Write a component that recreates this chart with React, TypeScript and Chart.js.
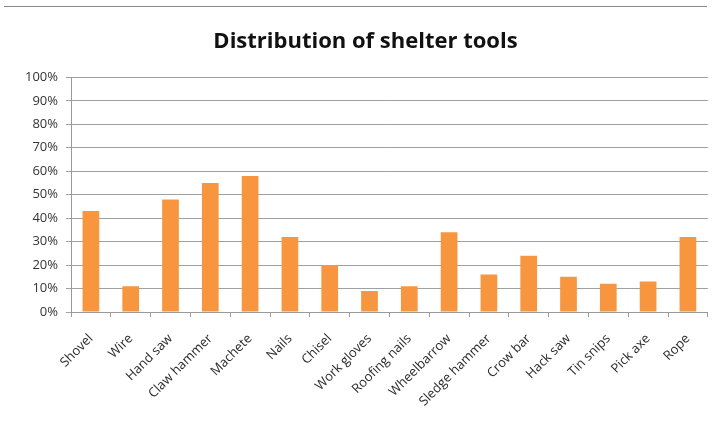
import { useEffect, useRef } from "react";
import { Chart, registerables } from "chart.js";

Chart.register(...registerables);

// Share of households owning each shelter tool (percent)
const tools = [
  "Shovel",
  "Wire",
  "Hand saw",
  "Claw hammer",
  "Machete",
  "Nails",
  "Chisel",
  "Work gloves",
  "Roofing nails",
  "Wheelbarrow",
  "Sledge hammer",
  "Crow bar",
  "Hack saw",
  "Tin snips",
  "Pick axe",
  "Rope",
];
const shares = [43, 11, 48, 55, 58, 32, 20, 9, 11, 34, 16, 24, 15, 12, 13, 32];
const yMin = 0;
const yMax = 100;
const yStep = 10;

const FONT = "'Open Sans', 'Liberation Sans', sans-serif";

export default function App() {
  const canvasRef = useRef<HTMLCanvasElement | null>(null);

  useEffect(() => {
    const canvas = canvasRef.current;
    if (!canvas) return;
    const chart = new Chart(canvas, {
      type: "bar",
      data: {
        labels: tools,
        datasets: [
          {
            data: shares,
            backgroundColor: "#F7963F",
            borderWidth: 0,
            categoryPercentage: 1,
            barPercentage: 0.42,
          },
        ],
      },
      options: {
        responsive: false,
        animation: false,
        layout: { padding: { left: 20, right: 2, top: 0, bottom: 0 } },
        plugins: {
          legend: { display: false },
          tooltip: { enabled: false },
          title: {
            display: true,
            text: "Distribution of shelter tools",
            color: "#111",
            font: { family: FONT, size: 22, weight: "bold" },
            padding: { top: 29, bottom: 22 },
          },
        },
        scales: {
          x: {
            grid: {
              display: true,
              drawOnChartArea: false,
              drawTicks: true,
              tickLength: 5,
              color: "#9a9a9a",
              offset: true,
            },
            border: { display: true, color: "#9a9a9a" },
            ticks: {
              color: "#2a2a2a",
              font: { family: FONT, size: 13 },
              minRotation: 45,
              maxRotation: 45,
              autoSkip: false,
              padding: 14,
            },
            afterFit: (scale: any) => {
              scale.height = 122;
            },
          },
          y: {
            min: yMin,
            max: yMax,
            ticks: {
              stepSize: yStep,
              color: "#333",
              font: { family: FONT, size: 13 },
              padding: 8,
              callback: (v: any) => `${v}%`,
            },
            grid: {
              color: "#a0a0a0",
              tickLength: 5,
            },
            border: { display: true, color: "#9a9a9a" },
            afterFit: (scale: any) => {
              scale.width = 51;
            },
          },
        },
      },
    });
    return () => chart.destroy();
  }, []);

  return (
    <div
      style={{
        position: "fixed",
        left: 0,
        top: 0,
        width: 713,
        height: 434,
        background: "#fff",
      }}
    >
      <div
        style={{
          position: "absolute",
          left: 4,
          right: 6,
          top: 6,
          borderTop: "1px solid #888",
        }}
      />
      <canvas
        ref={canvasRef}
        width={713}
        height={434}
        style={{ position: "absolute", left: 0, top: 0 }}
      />
    </div>
  );
}
